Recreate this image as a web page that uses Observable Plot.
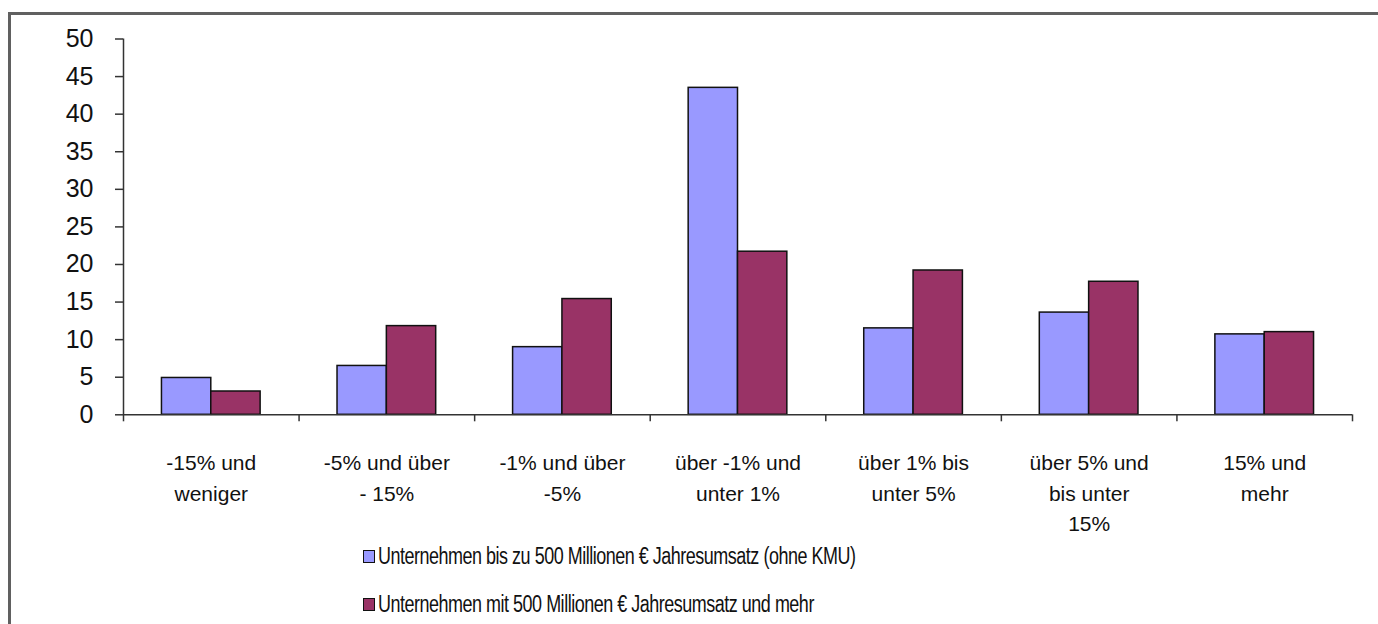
<!DOCTYPE html>
<html>
<head>
<meta charset="utf-8">
<script src="https://cdn.jsdelivr.net/npm/d3@7"></script>
<script src="https://cdn.jsdelivr.net/npm/@observablehq/plot@0.6"></script>
<style>
  html, body { margin: 0; padding: 0; background: #fff; width: 1378px; height: 624px; overflow: hidden; }
  #border { position: absolute; left: 8px; top: 12px; width: 1400px; height: 700px;
            border-left: 3px solid #606060; border-top: 3px solid #606060; box-sizing: border-box; }
  #chart { position: absolute; left: 0; top: 0; }
  #legend { position: absolute; left: 363px; top: 532px; font-family: Arial, "Liberation Sans", sans-serif;
            font-size: 23px; color: #111; }
  .item { display: flex; align-items: center; height: 48px; letter-spacing: -0.6px; white-space: nowrap; }
  .item span { display: inline-block; transform: scaleX(0.78); transform-origin: left center; }
  .sw { width: 10px; height: 11px; border: 1.5px solid #111; margin-right: 3px; flex: none; }
</style>
</head>
<body>
<div id="border"></div>
<div id="chart"></div>
<div id="legend"></div>
<script>
const categories = [
  "-15% und\nweniger",
  "-5% und über\n- 15%",
  "-1% und über\n-5%",
  "über -1% und\nunter 1%",
  "über 1% bis\nunter 5%",
  "über 5% und\nbis unter\n15%",
  "15% und\nmehr"
];
const seriesNames = [
  "Unternehmen bis zu 500 Millionen € Jahresumsatz (ohne KMU)",
  "Unternehmen mit 500 Millionen € Jahresumsatz und mehr"
];
const seriesColors = ["#9999FF", "#993366"];
const smallCompanies = [4.9, 6.5, 9.0, 43.5, 11.5, 13.6, 10.7];
const largeCompanies = [3.1, 11.8, 15.4, 21.7, 19.2, 17.7, 11.0];
const yTicks = [0, 5, 10, 15, 20, 25, 30, 35, 40, 45, 50];

const barFrac = 0.281; // bar width as fraction of category band
const rows = [];
categories.forEach((c, i) => {
  rows.push({i, cat: c, series: seriesNames[0], value: smallCompanies[i], x1: i - barFrac, x2: i});
  rows.push({i, cat: c, series: seriesNames[1], value: largeCompanies[i], x1: i, x2: i + barFrac});
});
const idx = d3.range(categories.length);
const boundaries = d3.range(-0.5, categories.length, 1);

const chart = Plot.plot({
  width: 1378,
  height: 545,
  marginLeft: 123,
  marginRight: 26,
  marginTop: 38.5,
  marginBottom: 130.7,
  style: {fontFamily: "Arial, 'Liberation Sans', sans-serif", color: "#111", background: "transparent"},
  x: {type: "linear", domain: [-0.5, categories.length - 0.5], axis: null},
  y: {domain: [0, 50], axis: null},
  color: {domain: seriesNames, range: seriesColors},
  marks: [
    Plot.rectY(rows, {x1: "x1", x2: "x2", y1: 0, y2: "value", fill: "series", stroke: "#111", strokeWidth: 1.5}),
    Plot.ruleY([0], {x1: -0.5, x2: categories.length - 0.5, stroke: "#333", strokeWidth: 1.5}),
    Plot.ruleX([-0.5], {y1: 0, y2: 50, stroke: "#333", strokeWidth: 1.5}),
    Plot.axisY({ticks: yTicks, label: null, tickSize: 8, tickPadding: 22, fontSize: 25, stroke: "#333", strokeWidth: 1.5}),
    Plot.axisX({ticks: boundaries, label: null, tickSize: 7, tickFormat: () => "", stroke: "#333", strokeWidth: 1.5}),
    Plot.text(idx, {x: d => d, y: 0, text: d => categories[d], dy: 34, lineAnchor: "top",
      lineHeight: 1.45, fontSize: 21, fill: "#111", textAnchor: "middle"})
  ]
});
document.getElementById("chart").appendChild(chart);

const legend = document.getElementById("legend");
seriesNames.forEach((name, k) => {
  const item = document.createElement("div");
  item.className = "item";
  const sw = document.createElement("div");
  sw.className = "sw";
  sw.style.background = seriesColors[k];
  const label = document.createElement("span");
  label.textContent = name;
  item.appendChild(sw);
  item.appendChild(label);
  legend.appendChild(item);
});
</script>
</body>
</html>
